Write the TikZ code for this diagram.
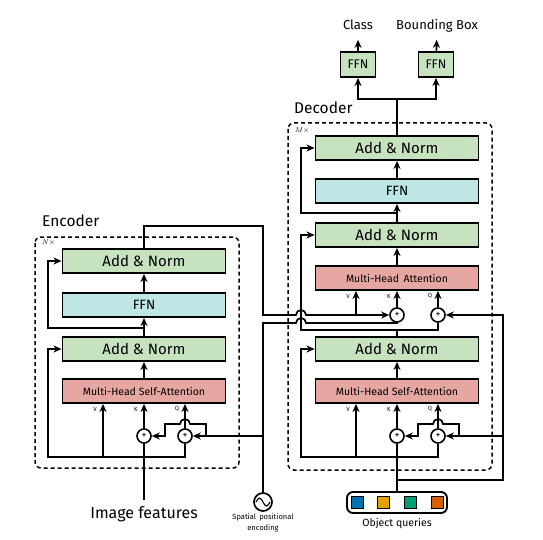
\documentclass[tikz,border=0pt]{standalone}
\usepackage{fontspec}
\setmainfont{Fira Sans}
\usepackage{tikz}
\usetikzlibrary{arrows.meta}

\definecolor{normgreen}{RGB}{198,226,190}
\definecolor{ffncyan}{RGB}{190,230,228}
\definecolor{attnred}{RGB}{230,166,162}
\definecolor{qblue}{RGB}{0,114,178}
\definecolor{qorange}{RGB}{230,159,0}
\definecolor{qgreen}{RGB}{0,158,115}
\definecolor{qred}{RGB}{213,94,0}

\tikzset{
  block/.style={draw,rectangle,line width=1.9pt,minimum width=163pt,minimum height=24pt,inner sep=0pt},
  addnorm/.style={block,fill=normgreen,font=\fontsize{15}{15}\selectfont},
  ffnblock/.style={block,fill=ffncyan,font=\fontsize{13.5}{13.5}\selectfont},
  attn/.style={block,fill=attnred,font=\fontsize{10.5}{10.5}\selectfont},
  headffn/.style={draw,rectangle,line width=1.9pt,fill=normgreen,minimum width=35pt,minimum height=25pt,inner sep=0pt,font=\fontsize{12.5}{12.5}\selectfont},
  headlabel/.style={anchor=base,inner sep=0pt,text depth=3pt,font=\fontsize{13}{13}\selectfont},
  plus/.style={draw,circle,line width=1.6pt,minimum size=14pt,inner sep=0pt,font=\fontsize{10}{10}\selectfont},
  port/.style={inner sep=0pt,font=\fontsize{6}{6}\selectfont},
  stack/.style={draw,dash pattern=on 4pt off 3pt,line width=1.5pt,rounded corners=6pt},
  query/.style={draw,rectangle,line width=0.8pt,minimum size=12pt,inner sep=0pt},
}

\begin{document}
\begin{tikzpicture}[x=1pt,y=-1pt,line width=1.7pt,>={Stealth[length=8pt,width=7pt,inset=2.5pt]}]
\useasboundingbox (0,0) rectangle (543,540);

% encoder
\draw [stack] (35,237) rectangle (239,468);
\node [anchor=west,font=\fontsize{15.5}{15.5}\selectfont] (enclabel) at (38,221) {Encoder};
\node [anchor=west,inner sep=0pt,font=\fontsize{7}{7}\selectfont] (nrep) at (41,243) {$N\times$};

\node [addnorm] (ean2) at (144,261) {Add \& Norm};
\node [ffnblock] (effn) at (144,305) {FFN};
\node [addnorm] (ean1) at (144,349) {Add \& Norm};
\node [attn] (emhsa) at (144,391) {Multi-Head Self-Attention};
\node [plus] (ekp) at (144,436) {+};
\node [plus] (eqp) at (185,436) {+};
\node [port] (evlab) at (95,409) {V};
\node [port] (eklab) at (136,409) {K};
\node [port] (eqlab) at (177,409) {Q};

\coordinate (ein) at (144,500);
\coordinate (ebot) at (48,457);
\coordinate (ev) at (103,457);
\coordinate (efork) at (144,328);
\coordinate (eres) at (48,328);
\coordinate (eout) at (263,226);
\coordinate (eout2) at (263,315);
\coordinate (epos) at (263,436);
\coordinate (ebr) at (206,436);

\node [font=\fontsize{16}{16}\selectfont] (imglabel) at (144,514) {Image features};

\draw (ein) -- (ekp);
\draw [->] (eqp) |- (ebot) |- (ean1.west);
\draw [->] (ev) -- (ev |- emhsa.south);
\draw [->] (ekp) -- (ekp |- emhsa.south);
\draw [->] (eqp) -- (eqp |- emhsa.south);
\draw [->] (emhsa) -- (ean1);
\draw [->] (ean1) -- (effn);
\draw [->] (efork) -- (eres) |- (ean2.west);
\draw [->] (effn) -- (ean2);
\draw [->] (epos) -- (eqp);
\draw [->] (ebr) -- ++(0,-12) -- ++(-16,0) arc [start angle=0,end angle=180,radius=5pt] -- ++(-15,0) |- (ekp);

% spatial positional encoding
\node [draw,circle,minimum size=18pt,inner sep=0pt] (pe) at (263,502) {};
\draw [line width=1.1pt] (pe.center) ++(-7,0) sin ++(3.5,-4) cos ++(3.5,4) sin ++(3.5,4) cos ++(3.5,-4);
\node [align=center,font=\fontsize{7.5}{11}\selectfont] (pelabel) at (263,523) {Spatial\, positional\\encoding};
\coordinate (pecorner) at (263,323);

% decoder
\draw [stack] (288,123) rectangle (492,470);
\node [anchor=west,font=\fontsize{15.5}{15.5}\selectfont] (declabel) at (290,108) {Decoder};
\node [anchor=west,inner sep=0pt,font=\fontsize{7}{7}\selectfont] (mrep) at (294,131) {$M\times$};

\node [addnorm] (dan3) at (397,148) {Add \& Norm};
\node [ffnblock] (dffn) at (397,191) {FFN};
\node [addnorm] (dan2) at (397,235) {Add \& Norm};
\node [attn] (dmha) at (397,278) {Multi-Head\, Attention};
\node [plus] (dkp2) at (397,315) {+};
\node [plus] (dqp2) at (438,315) {+};
\node [addnorm] (dan1) at (397,349) {Add \& Norm};
\node [attn] (dmhsa) at (397,391) {Multi-Head Self-Attention};
\node [plus] (dkp) at (397,436) {+};
\node [plus] (dqp) at (438,436) {+};
\node [port] (dvlab2) at (348,296) {V};
\node [port] (dklab2) at (389,296) {K};
\node [port] (dqlab2) at (430,296) {Q};
\node [port] (dvlab) at (348,409) {V};
\node [port] (dklab) at (389,409) {K};
\node [port] (dqlab) at (430,409) {Q};

\coordinate (memv) at (356,315);
\coordinate (qjoin) at (397,480);
\coordinate (qr) at (503,480);
\coordinate (qpos) at (503,436);
\coordinate (dbr) at (459,436);
\coordinate (dbot) at (301,457);
\coordinate (dv) at (356,457);
\coordinate (dfork) at (397,330);
\coordinate (dres1) at (301,330);
\coordinate (dfork2) at (397,213);
\coordinate (dres2) at (301,213);
\coordinate (dsplit) at (397,99);

% object queries
\node [draw,rounded corners=6pt,line width=1.9pt,minimum width=100pt,minimum height=21pt] (oq) at (397,502.5) {};
\node [query,fill=qblue] (q1) at (357,502.5) {};
\node [query,fill=qorange] (q2) at (383.7,502.5) {};
\node [query,fill=qgreen] (q3) at (410.3,502.5) {};
\node [query,fill=qred] (q4) at (437,502.5) {};
\node [font=\fontsize{10.5}{10.5}\selectfont] (oqlabel) at (397,524) {Object queries};

% encoder memory and positions into the decoder
\draw [->] (ean2) |- (eout) -- (eout2) -- (296,315) arc [start angle=180,end angle=0,radius=5pt] -- (dkp2);
\draw [->] (memv) -- (memv |- dmha.south);
\draw (pe) -- (epos) -- (pecorner) -- (296,323) arc [start angle=180,end angle=0,radius=5pt] -| (dkp2);

\draw (oq) -- (dkp);
\draw [->] (qjoin) -- (qr) |- (dqp2);
\draw [->] (qpos) -- (dqp);
\draw [->] (dbr) -- ++(0,-12) -- ++(-16,0) arc [start angle=0,end angle=180,radius=5pt] -- ++(-15,0) |- (dkp);
\draw [->] (dqp) |- (dbot) |- (dan1.west);
\draw [->] (dv) -- (dv |- dmhsa.south);
\draw [->] (dkp) -- (dkp |- dmhsa.south);
\draw [->] (dqp) -- (dqp |- dmhsa.south);
\draw [->] (dmhsa) -- (dan1);
\draw (dan1) -- (dfork) -| (dqp2);
\draw [->] (dfork) -- (dres1) |- (dan2.west);
\draw [->] (dkp2) -- (dkp2 |- dmha.south);
\draw [->] (dqp2) -- (dqp2 |- dmha.south);
\draw [->] (dmha) -- (dan2);
\draw [->] (dan2) -- (dffn);
\draw [->] (dfork2) -- (dres2) |- (dan3.west);
\draw [->] (dffn) -- (dan3);

% prediction heads
\node [headffn] (clsffn) at (358,64.5) {FFN};
\node [headffn] (boxffn) at (436,64.5) {FFN};
\node [headlabel] (clslabel) at (358,30) {Class};
\node [headlabel] (boxlabel) at (437,30) {Bounding Box};
\draw (dan3) -- (dsplit);
\draw [->] (dsplit) -| (clsffn);
\draw [->] (dsplit) -| (boxffn);
\draw [->,shorten >=6pt] (clsffn) -- (clslabel);
\draw [->,shorten >=6pt] (boxffn) -- (boxlabel);
\end{tikzpicture}
\end{document}
